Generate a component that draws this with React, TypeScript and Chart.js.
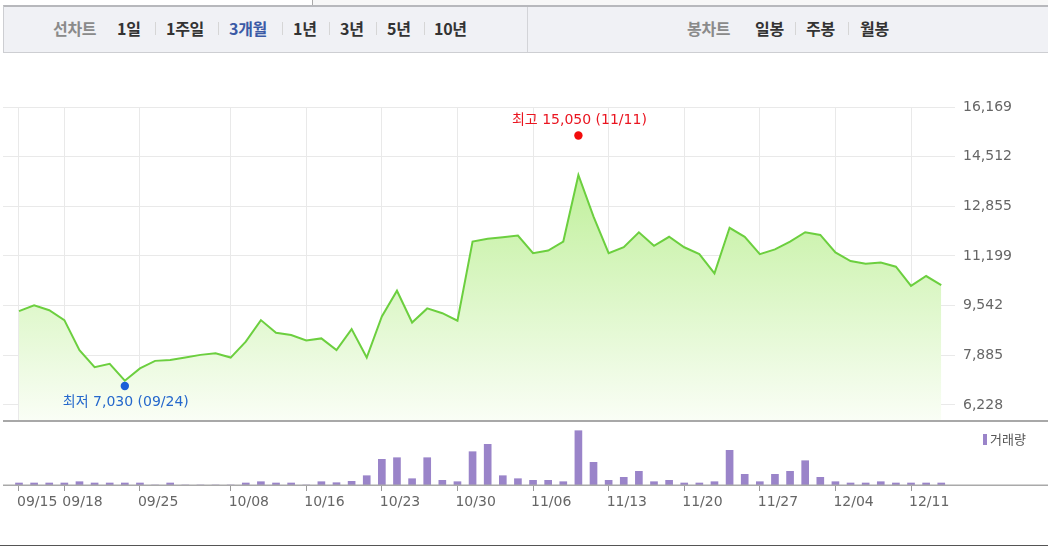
import React, { useEffect, useRef } from 'react';
import { Chart, registerables } from 'chart.js';

Chart.register(...registerables);

// ---- data ----
const closePrices = [
  9360, 9550, 9390, 9060, 8060, 7490, 7600, 7040, 7450, 7700, 7730, 7810, 7900, 7950, 7810, 8340,
  9060, 8640, 8560, 8380, 8450, 8060, 8760, 7810, 9180, 10040, 8980, 9450, 9290, 9040, 11680, 11770,
  11820, 11880, 11290, 11380, 11680, 13900, 12510, 11290, 11490, 11990, 11540, 11840, 11490, 11260,
  10620, 12140, 11840, 11260, 11420, 11680, 11990, 11900, 11320, 11030, 10940, 10980, 10840, 10200,
  10530, 10230,
];
// trading volume (shares)
const volumes = [
  2000, 2000, 2000, 2000, 3300, 2000, 2000, 2000, 2000, 0, 2000, 0, 0, 0, 0, 2000,
  3300, 2000, 2000, 0, 3300, 2300, 3700, 9300, 25700, 27300, 6300, 27300, 4700, 3300, 33300, 40700,
  9300, 6300, 4700, 4700, 3300, 54300, 22700, 4700, 7700, 13700, 3300, 4700, 2000, 2000,
  3300, 34700, 10700, 3300, 10700, 13700, 24300, 7700, 3300, 2000, 2000, 3300, 2000, 2000,
  2000, 2000,
];
const tickIndex = [0, 3, 8, 14, 19, 24, 29, 34, 39, 44, 49, 54, 59];
const tickLabels = ['09/15', '09/18', '09/25', '10/08', '10/16', '10/23', '10/30', '11/06', '11/13', '11/20', '11/27', '12/04', '12/11'];
const priceTicks = [6228, 7885, 9542, 11199, 12855, 14512, 16169];
const highPrice = 15050;
const highDate = '11/11';
const highIndex = 37;
const lowPrice = 7030;
const lowDate = '09/24';
const lowIndex = 7;

const X_MIN = -1.058;
const X_MAX = 61.909;
const Y_MIN = 5694;
const Y_MAX = 16169;
const VOL_MAX = 64000;
const AXIS_W = 93;
const FONT = '"DejaVu Sans", "Noto Sans CJK KR", sans-serif';

function PriceChart() {
  const ref = useRef<HTMLCanvasElement>(null);
  useEffect(() => {
    const canvas = ref.current;
    if (!canvas) return;
    const markers = {
      id: 'hiLoMarkers',
      afterDatasetsDraw(chart: any) {
        const { ctx, scales } = chart;
        const x = scales.x;
        const y = scales.y;
        const draw = (idx: number, price: number, date: string, prefix: string, color: string, dot: string, up: boolean) => {
          const px = x.getPixelForValue(idx);
          const py = y.getPixelForValue(price) + (up ? -5 : 5);
          ctx.save();
          ctx.fillStyle = dot;
          ctx.beginPath();
          ctx.arc(px, py, 4.2, 0, Math.PI * 2);
          ctx.fill();
          ctx.fillStyle = color;
          ctx.font = `14px ${FONT}`;
          ctx.textAlign = 'center';
          ctx.textBaseline = 'middle';
          ctx.fillText(`${prefix} ${price.toLocaleString('en-US')} (${date})`, px + 1, py + (up ? -15 : 16));
          ctx.restore();
        };
        draw(highIndex, highPrice, highDate, '최고', '#ea1520', '#f20c0c', true);
        draw(lowIndex, lowPrice, lowDate, '최저', '#2568cc', '#1a5fd8', false);
      },
    };
    const chart = new Chart(canvas, {
      type: 'line',
      data: {
        datasets: [
          {
            data: closePrices.map((v, i) => ({ x: i, y: v })),
            borderColor: '#6ccf3f',
            borderWidth: 2,
            pointRadius: 0,
            tension: 0,
            fill: 'start',
            backgroundColor: (c: any) => {
              const ch = c.chart;
              const a = ch.chartArea;
              if (!a) return 'rgba(0,0,0,0)';
              const g = ch.ctx.createLinearGradient(0, a.top, 0, a.bottom);
              g.addColorStop(0, 'rgb(176,236,130)');
              g.addColorStop(1, 'rgb(250,254,246)');
              return g;
            },
          },
        ],
      },
      options: {
        responsive: false,
        animation: false,
        layout: { padding: { top: 17, left: 3, right: 0, bottom: 17 } },
        plugins: { legend: { display: false }, tooltip: { enabled: false } },
        scales: {
          x: {
            type: 'linear',
            min: X_MIN,
            max: X_MAX,
            afterBuildTicks: (s: any) => {
              s.ticks = tickIndex.map((v) => ({ value: v }));
            },
            ticks: { display: false },
            grid: { color: '#e9e9e9', drawTicks: false },
            border: { display: false },
            afterFit: (s: any) => {
              s.height = 0;
            },
          },
          y: {
            type: 'linear',
            position: 'right',
            min: Y_MIN,
            max: Y_MAX,
            afterBuildTicks: (s: any) => {
              s.ticks = priceTicks.map((v) => ({ value: v }));
            },
            ticks: {
              color: '#666',
              font: { family: FONT, size: 14 },
              padding: 8,
              autoSkip: false,
              callback: (v: any) => Number(v).toLocaleString('en-US'),
            },
            grid: { color: '#e9e9e9', drawTicks: false },
            border: { display: false },
            afterFit: (s: any) => {
              s.width = AXIS_W;
            },
          },
        },
      } as any,
      plugins: [markers],
    });
    return () => chart.destroy();
  }, []);
  return (
    <canvas
      ref={ref}
      width={1048}
      height={348}
      style={{ position: 'absolute', left: 0, top: 90, width: 1048, height: 348 }}
    />
  );
}

function VolumeChart() {
  const ref = useRef<HTMLCanvasElement>(null);
  useEffect(() => {
    const canvas = ref.current;
    if (!canvas) return;
    const baseline = {
      id: 'baseline',
      afterDatasetsDraw(chart: any) {
        const { ctx, chartArea, width } = chart;
        ctx.save();
        ctx.strokeStyle = '#a9a9a9';
        ctx.lineWidth = 1.5;
        ctx.beginPath();
        ctx.moveTo(3, chartArea.bottom + 0.25);
        ctx.lineTo(width, chartArea.bottom + 0.25);
        ctx.stroke();
        ctx.restore();
      },
    };
    const chart = new Chart(canvas, {
      type: 'bar',
      data: {
        datasets: [
          {
            data: volumes.map((v, i) => ({ x: i, y: v })),
            backgroundColor: '#9a84c9',
            barThickness: 7,
          },
        ],
      },
      options: {
        responsive: false,
        animation: false,
        layout: { padding: { top: 0, left: 3, right: 0, bottom: 0 } },
        plugins: { legend: { display: false }, tooltip: { enabled: false } },
        scales: {
          x: {
            type: 'linear',
            min: X_MIN,
            max: X_MAX,
            offset: false,
            afterBuildTicks: (s: any) => {
              s.ticks = tickIndex.map((v) => ({ value: v }));
            },
            ticks: {
              color: '#666',
              font: { family: FONT, size: 14 },
              align: 'start',
              labelOffset: -2,
              padding: 3,
              autoSkip: false,
              maxRotation: 0,
              minRotation: 0,
              callback: (v: any) => {
                const k = tickIndex.indexOf(Number(v));
                return k >= 0 ? tickLabels[k] : '';
              },
            },
            grid: { display: true, offset: false, drawOnChartArea: false, drawTicks: true, tickLength: 6, tickColor: '#9a9a9a' },
            border: { display: false },
            afterFit: (s: any) => {
              s.height = 48;
            },
          },
          y: {
            type: 'linear',
            position: 'right',
            min: 0,
            max: VOL_MAX,
            ticks: { display: false },
            grid: { display: false },
            border: { display: false },
            afterFit: (s: any) => {
              s.width = AXIS_W;
            },
          },
        },
      } as any,
      plugins: [baseline],
    });
    return () => chart.destroy();
  }, []);
  return (
    <canvas
      ref={ref}
      width={1048}
      height={112}
      style={{ position: 'absolute', left: 0, top: 421, width: 1048, height: 112 }}
    />
  );
}

const navText: React.CSSProperties = {
  position: 'absolute',
  top: 5,
  height: 46,
  lineHeight: '46px',
  fontFamily: '"Noto Sans CJK KR", sans-serif',
  fontSize: 16,
  fontWeight: 700,
  color: '#333',
  whiteSpace: 'nowrap',
  letterSpacing: '-0.3px',
};

const navItems = [
  { t: '선차트', x: 53, c: '#8a8a8a' },
  { t: '1일', x: 117 },
  { t: '1주일', x: 166 },
  { t: '3개월', x: 229, c: '#3b5aa6' },
  { t: '1년', x: 293 },
  { t: '3년', x: 340 },
  { t: '5년', x: 387 },
  { t: '10년', x: 434 },
  { t: '봉차트', x: 687, c: '#8a8a8a' },
  { t: '일봉', x: 755 },
  { t: '주봉', x: 806 },
  { t: '월봉', x: 860 },
];
const navSeps = [155, 218, 282, 329, 376, 424, 795, 848];

export default function App() {
  return (
    <div style={{ position: 'relative', width: 1048, height: 547, background: '#fff', overflow: 'hidden' }}>
      <style>{'body{margin:0;}'}</style>
      {/* top strip */}
      <div style={{ position: 'absolute', left: 312, top: 0, width: 1, height: 6, background: '#aaa' }} />
      <div style={{ position: 'absolute', left: 313, top: 0, width: 735, height: 5, background: '#f7f7f7' }} />
      {/* tab bar */}
      <div
        style={{
          position: 'absolute',
          left: 3,
          top: 5,
          width: 1060,
          height: 45,
          background: '#f0f1f5',
          borderTop: '2px solid #b7b8bc',
          borderBottom: '1px solid #cdced2',
          borderLeft: '1px solid #cdced2',
        }}
      />
      <div style={{ position: 'absolute', left: 527, top: 7, width: 1, height: 45, background: '#d3d4d8' }} />
      {navItems.map((n) => (
        <span key={n.t} style={{ ...navText, left: n.x, color: n.c || '#333' }}>
          {n.t}
        </span>
      ))}
      {navSeps.map((x) => (
        <div key={x} style={{ position: 'absolute', left: x, top: 22, width: 1, height: 13, background: '#d6d6d6' }} />
      ))}
      <PriceChart />
      <div style={{ position: 'absolute', left: 3, top: 420, width: 1045, height: 2, background: '#a8a8a8' }} />
      <VolumeChart />
      {/* volume legend */}
      <div style={{ position: 'absolute', left: 983, top: 434, width: 4, height: 11, background: '#9a84c9' }} />
      <div
        style={{
          position: 'absolute',
          left: 990,
          top: 430,
          fontFamily: '"Noto Sans CJK KR", sans-serif',
          fontSize: 13,
          lineHeight: '18px',
          color: '#555',
        }}
      >
        거래량
      </div>
      <div style={{ position: 'absolute', left: 0, top: 545, width: 1048, height: 1, background: '#555' }} />
    </div>
  );
}
